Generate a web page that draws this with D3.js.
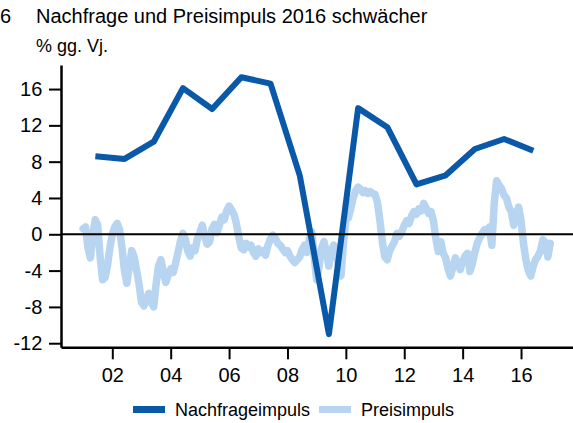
<!DOCTYPE html>
<html>
<head>
<meta charset="utf-8">
<script src="https://cdnjs.cloudflare.com/ajax/libs/d3/7.8.5/d3.min.js"></script>
<style>
  body { margin: 0; background: #fff; }
  text { font-family: "Liberation Sans", Arial, sans-serif; fill: #000; }
</style>
</head>
<body>
<div id="chart"></div>
<script>
// Nachfrageimpuls: yearly values (plotted mid-year)
var demandYears = [2001, 2002, 2003, 2004, 2005, 2006, 2007, 2008, 2009, 2010, 2011, 2012, 2013, 2014, 2015, 2016];
var demandValues = [8.6, 8.3, 10.2, 16.1, 13.8, 17.3, 16.6, 6.5, -11.0, 13.9, 11.8, 5.5, 6.5, 9.4, 10.5, 9.2];

// Preisimpuls: monthly values starting Jan 2001
var priceStart = 2001;
var priceValues = [
  0.6, 0.8, -1.5, -2.6, 0.0, 1.6, 1.0, -2.5, -5.0, -4.8, -3.5, -1.5,   // 2001
  0.0, 0.8, 1.2, 0.5, -1.5, -4.0, -5.4, -3.5, -1.8, -2.5, -4.0, -5.5,  // 2002
  -7.5, -7.9, -7.2, -6.5, -7.5, -8.0, -5.5, -3.5, -2.8, -4.2, -5.3, -4.5, // 2003
  -3.8, -4.2, -3.2, -2.0, -0.8, 0.1, -0.5, -1.8, -2.4, -1.5, -1.8, -0.5, // 2004
  0.2, 1.0, -0.2, -1.1, -0.8, 0.6, 1.1, 0.2, 1.0, 1.9, 1.6, 2.6,       // 2005
  3.1, 2.7, 2.2, 1.2, -0.3, -1.5, -1.7, -1.0, -1.4, -1.2, -2.0, -2.4,  // 2006
  -1.6, -2.0, -1.8, -2.3, -1.2, -0.5, -0.1, -0.4, -1.0, -1.2, -1.6, -2.0, // 2007
  -1.8, -2.4, -2.8, -3.1, -2.8, -2.5, -1.7, -1.2, -2.0, -0.5, 0.3, -2.5, // 2008
  -5.0, -3.5, -1.5, -0.8, -2.0, -3.5, -1.8, -1.2, -2.0, -3.5, -4.6, -1.0, // 2009
  1.6, 1.8, 2.8, 4.0, 4.8, 5.2, 5.0, 4.6, 4.8, 4.5, 4.7, 4.5,          // 2010
  4.4, 3.5, 1.5, -0.8, -2.5, -2.8, -1.8, -1.3, -0.8, 0.1, -0.2, 0.3,   // 2011
  1.0, 1.5, 1.2, 2.0, 2.5, 2.2, 2.8, 2.6, 3.4, 2.9, 2.3, 2.5,          // 2012
  1.5, -0.5, -1.9, -0.8, -2.1, -2.6, -3.8, -4.6, -3.6, -2.6, -3.3, -3.9, // 2013
  -3.0, -2.4, -2.1, -4.1, -3.2, -2.0, -1.0, -0.4, 0.1, 0.5, 0.2, 0.8,  // 2014
  -1.2, 3.5, 5.9, 5.4, 5.0, 4.3, 4.0, 3.0, 2.5, 1.0, 2.0, 3.0,         // 2015
  1.5, -1.0, -2.8, -4.0, -4.6, -3.5, -2.8, -2.4, -1.8, -0.6, -0.9, -2.5, // 2016
  -1.0                                                                 // 2017
];

var yTicks = [-12, -8, -4, 0, 4, 8, 12, 16];
var xTicks = [2002, 2004, 2006, 2008, 2010, 2012, 2014, 2016];
var seriesNames = ["Nachfrageimpuls", "Preisimpuls"];
var seriesColors = ["#0a58a8", "#b7d4f0"];

var svgWidth = 573;
var svgHeight = 423;

var margin = {
  top: 65,
  right: 0,
  bottom: 75.7,
  left: 61
};

var width = svgWidth - margin.left - margin.right;
var height = svgHeight - margin.top - margin.bottom;

var svg = d3
  .select("#chart")
  .append("svg")
  .attr("width", svgWidth)
  .attr("height", svgHeight);

// Titles
svg.append("text")
  .attr("x", 0)
  .attr("y", 22.5)
  .style("font-size", "20px")
  .text("6");

svg.append("text")
  .attr("x", 36)
  .attr("y", 22.5)
  .style("font-size", "20px")
  .text("Nachfrage und Preisimpuls 2016 schwächer");

svg.append("text")
  .attr("x", 36)
  .attr("y", 51.5)
  .style("font-size", "18px")
  .text("% gg. Vj.");

var chartGroup = svg.append("g")
  .attr("transform", `translate(${margin.left}, ${margin.top})`);

var xScale = d3.scaleLinear()
  .domain([2000.243, 2017.78])
  .range([0, width]);

var yScale = d3.scaleLinear()
  .domain([-12.45, 18.65])
  .range([height, 0]);

// axes
var bottomAxis = d3.axisBottom(xScale)
  .tickValues(xTicks)
  .tickFormat(d => String(d).slice(2))
  .tickSize(12)
  .tickSizeOuter(0)
  .tickPadding(8.8);

var leftAxis = d3.axisLeft(yScale)
  .tickValues(yTicks)
  .tickFormat(d => String(d))
  .tickSize(12)
  .tickSizeOuter(0)
  .tickPadding(6.7);

var xAxis = chartGroup.append("g")
  .attr("transform", `translate(0, ${height})`)
  .call(bottomAxis);

var yAxis = chartGroup.append("g")
  .call(leftAxis);

[xAxis, yAxis].forEach(function(ax) {
  ax.attr("font-family", null).attr("font-size", null);
  ax.select(".domain").attr("stroke", "#000").attr("stroke-width", 2.5);
  ax.selectAll(".tick line").attr("stroke", "#000").attr("stroke-width", 2);
  ax.selectAll(".tick text").style("font-size", "20px");
});

var priceData = priceValues.map((v, i) => ({ t: priceStart + i / 12, v: v }));
var demandData = demandYears.map((y, i) => ({ t: y + 0.42, v: demandValues[i] }));

var line = d3.line()
  .x(d => xScale(d.t))
  .y(d => yScale(d.v));

// price line (light), under the demand line
chartGroup.append("path")
  .datum(priceData)
  .attr("fill", "none")
  .attr("stroke", seriesColors[1])
  .attr("stroke-width", 7.5)
  .attr("stroke-linejoin", "round")
  .attr("stroke-linecap", "round")
  .attr("d", line);

chartGroup.append("path")
  .datum(demandData)
  .attr("fill", "none")
  .attr("stroke", seriesColors[0])
  .attr("stroke-width", 6)
  .attr("stroke-linejoin", "round")
  .attr("d", line);

// zero line
chartGroup.append("line")
  .attr("x1", 0)
  .attr("x2", width)
  .attr("y1", yScale(0))
  .attr("y2", yScale(0))
  .attr("stroke", "#000")
  .attr("stroke-width", 2);

// legend
var legend = svg.append("g")
  .attr("transform", "translate(133, 409.5)");

var legendX = [0, 186];
seriesNames.forEach(function(name, i) {
  var item = legend.append("g")
    .attr("transform", `translate(${legendX[i]}, 0)`);
  item.append("line")
    .attr("x1", 0)
    .attr("x2", 32)
    .attr("stroke", seriesColors[i])
    .attr("stroke-width", 7);
  item.append("text")
    .attr("x", 42)
    .attr("y", 6.5)
    .style("font-size", "18px")
    .text(name);
});
</script>
</body>
</html>
